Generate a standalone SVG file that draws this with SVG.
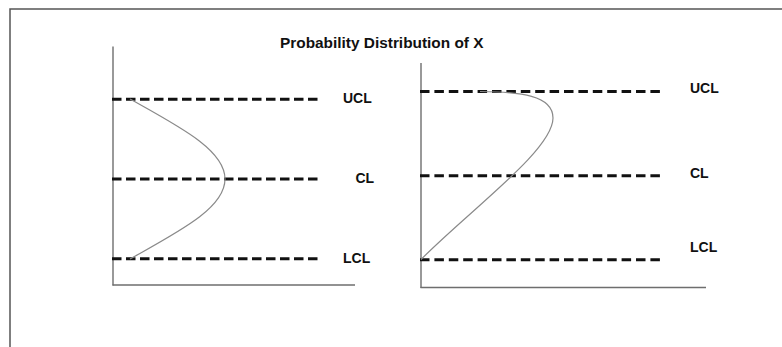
<svg xmlns="http://www.w3.org/2000/svg" width="782" height="347" viewBox="0 0 782 347">
<style>
.lbl{font-family:"Liberation Sans",Arial,sans-serif;font-weight:bold;font-size:14px;fill:#111}
.title{font-family:"Liberation Sans",Arial,sans-serif;font-weight:bold;font-size:15.4px;fill:#111}
.axis{stroke:#6e6e6e;stroke-width:1.4;fill:none}
.dash{stroke:#111;stroke-width:3;stroke-dasharray:9.5 4.5;fill:none}
.dashR{stroke:#111;stroke-width:3;stroke-dasharray:9.5 4.9;fill:none}
.curve{stroke:#8a8a8a;stroke-width:1.2;fill:none}
</style>
<rect x="0" y="0" width="782" height="347" fill="#ffffff"/>
<path d="M10,347 V9 H782" fill="none" stroke="#555" stroke-width="1.5"/>
<text class="title" x="280" y="48">Probability Distribution of X</text>
<g id="left-chart">
<line class="axis" x1="113" y1="46.5" x2="113" y2="285.5"/>
<line class="axis" x1="112.5" y1="285" x2="355" y2="285"/>
<g id="left-lines">
<line class="dash" x1="112" y1="99.3" x2="318" y2="99.3"/>
<line class="dash" x1="112" y1="179" x2="318" y2="179"/>
<line class="dash" x1="112" y1="258.7" x2="318" y2="258.7"/>
</g>
<path class="curve" d="M130,99 C180,127 225,150 225,179 C225,208 180,231 130,259"/>
<text class="lbl" x="343" y="103.3">UCL</text>
<text class="lbl" x="355.5" y="182.7">CL</text>
<text class="lbl" x="343" y="262.7">LCL</text>
</g>
<g id="right-chart">
<line class="axis" x1="421" y1="63" x2="421" y2="288"/>
<line class="axis" x1="420.5" y1="287.5" x2="706" y2="287.5"/>
<g id="right-lines">
<line class="dashR" x1="420" y1="91.5" x2="660" y2="91.5"/>
<line class="dashR" x1="420" y1="175.7" x2="660" y2="175.7"/>
<line class="dashR" x1="420" y1="259.7" x2="660" y2="259.7"/>
</g>
<path class="curve" d="M421,259.5 C470,210 553,150 553,118 C553,95 520,92 480,91.5"/>
<text class="lbl" x="690" y="93.3">UCL</text>
<text class="lbl" x="690" y="178.3">CL</text>
<text class="lbl" x="690" y="252.3">LCL</text>
</g>
</svg>
